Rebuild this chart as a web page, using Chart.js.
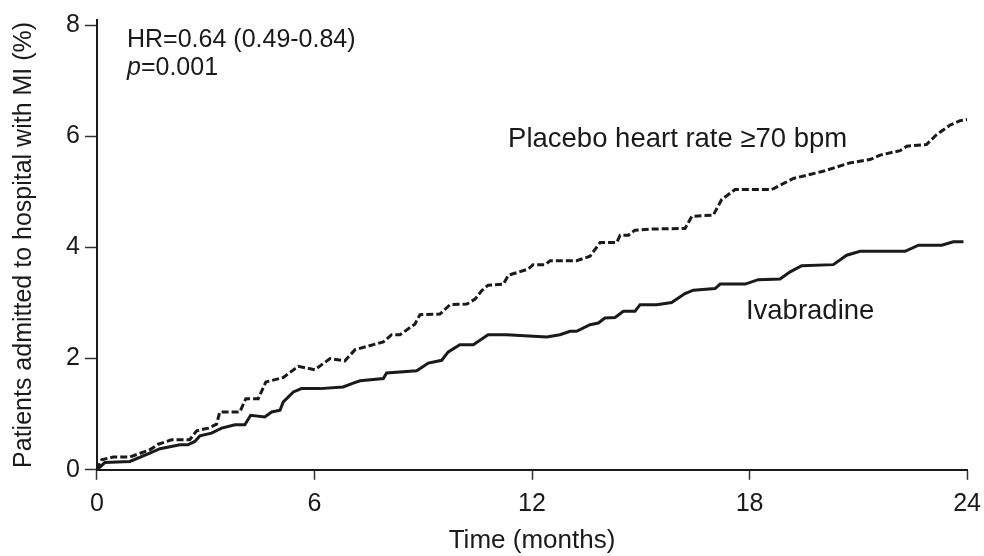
<!DOCTYPE html>
<html>
<head>
<meta charset="utf-8">
<script src="https://cdn.jsdelivr.net/npm/chart.js@4.4.1/dist/chart.umd.min.js"></script>
<style>
  html, body { margin: 0; padding: 0; background: #fff; width: 984px; height: 556px; overflow: hidden; }
  #wrap { width: 990px; height: 556px; position: relative; }
</style>
</head>
<body>
<div id="wrap"><canvas id="kmChart"></canvas></div>
<script>
// Kaplan-Meier curves, months vs cumulative % admitted with MI
const ivabradineMonths = [0, 0.22, 0.91, 1.46, 1.74, 2.29, 2.51, 2.70, 2.84, 3.16, 3.44, 3.81, 4.08, 4.24, 4.63, 4.82, 5.05, 5.14, 5.42, 5.64, 6.15, 6.79, 7.07, 7.26, 7.90, 7.99, 8.82, 9.14, 9.51, 9.69, 10.01, 10.38, 10.79, 11.30, 12.41, 12.77, 13.05, 13.23, 13.60, 13.83, 14.01, 14.29, 14.52, 14.84, 14.98, 15.44, 15.85, 16.22, 16.45, 17.05, 17.19, 17.88, 18.24, 18.84, 19.12, 19.44, 20.31, 20.68, 21.05, 22.29, 22.66, 23.30, 23.62, 23.90];
const ivabradineRates = [0, 0.13, 0.15, 0.30, 0.38, 0.45, 0.45, 0.51, 0.61, 0.66, 0.75, 0.81, 0.81, 0.98, 0.95, 1.04, 1.07, 1.22, 1.40, 1.46, 1.46, 1.49, 1.56, 1.60, 1.64, 1.74, 1.78, 1.92, 1.97, 2.12, 2.25, 2.25, 2.43, 2.43, 2.39, 2.43, 2.49, 2.49, 2.61, 2.64, 2.73, 2.74, 2.85, 2.85, 2.97, 2.97, 3.01, 3.17, 3.23, 3.26, 3.34, 3.34, 3.42, 3.43, 3.56, 3.67, 3.69, 3.86, 3.93, 3.93, 4.04, 4.04, 4.10, 4.10];

const placeboMonths = [0, 0.13, 0.45, 0.91, 1.46, 1.69, 2.06, 2.56, 2.75, 3.07, 3.30, 3.39, 3.94, 4.11, 4.45, 4.66, 5.14, 5.28, 5.55, 6.01, 6.43, 6.84, 7.12, 7.90, 8.13, 8.36, 8.77, 8.91, 9.46, 9.74, 10.20, 10.43, 10.61, 10.79, 11.21, 11.35, 11.90, 12.03, 12.36, 12.50, 13.23, 13.60, 13.88, 14.34, 14.43, 14.66, 14.84, 15.26, 16.22, 16.41, 17.00, 17.23, 17.60, 18.61, 19.21, 20.03, 20.77, 21.32, 21.60, 22.15, 22.34, 22.88, 23.16, 23.53, 23.81, 24.00];
const placeboRates = [0, 0.18, 0.23, 0.23, 0.36, 0.46, 0.54, 0.54, 0.70, 0.75, 0.82, 1.04, 1.04, 1.28, 1.28, 1.58, 1.66, 1.73, 1.86, 1.80, 2.00, 1.96, 2.16, 2.30, 2.43, 2.43, 2.62, 2.79, 2.80, 2.97, 2.98, 3.07, 3.22, 3.32, 3.34, 3.50, 3.61, 3.69, 3.69, 3.76, 3.76, 3.84, 4.09, 4.09, 4.22, 4.22, 4.31, 4.33, 4.34, 4.56, 4.58, 4.86, 5.04, 5.04, 5.24, 5.37, 5.52, 5.58, 5.66, 5.74, 5.82, 5.85, 6.03, 6.20, 6.28, 6.30];

const xTicks = [0, 6, 12, 18, 24];
const yTicks = [0, 2, 4, 6, 8];

const FONT = "'Liberation Sans', Arial, Helvetica, sans-serif";
const INK = '#1a1a1a';

function zip(xs, ys) {
  return xs.map(function (x, i) { return { x: x, y: ys[i] }; });
}

// texts written inside the plot, anchored on data values
const annotations = {
  id: 'annotations',
  afterDraw: function (chart) {
    const ctx = chart.ctx;
    const xs = chart.scales.x, ys = chart.scales.y;
    ctx.save();
    ctx.fillStyle = INK;
    ctx.textBaseline = 'alphabetic';
    ctx.textAlign = 'left';
    ctx.font = '25px ' + FONT;

    ctx.fillText('HR=0.64 (0.49-0.84)', xs.getPixelForValue(0.83), ys.getPixelForValue(7.61));

    let px = xs.getPixelForValue(0.83), py = ys.getPixelForValue(7.105);
    ctx.font = 'italic 25px ' + FONT;
    ctx.fillText('p', px, py);
    px += ctx.measureText('p').width;
    ctx.font = '25px ' + FONT;
    ctx.fillText('=0.001', px, py);

    ctx.font = '27.5px ' + FONT;
    ctx.fillText('Placebo heart rate \u2265' + '70 bpm', xs.getPixelForValue(11.34), ys.getPixelForValue(5.80));
    ctx.fillText('Ivabradine', xs.getPixelForValue(17.9), ys.getPixelForValue(2.72));
    ctx.restore();
  }
};

new Chart(document.getElementById('kmChart'), {
  type: 'line',
  data: {
    datasets: [{
      label: 'Ivabradine',
      data: zip(ivabradineMonths, ivabradineRates),
      borderColor: INK,
      borderWidth: 3,
      pointRadius: 0,
      tension: 0,
      fill: false
    }, {
      label: 'Placebo heart rate \u226570 bpm',
      data: zip(placeboMonths, placeboRates),
      borderColor: INK,
      borderWidth: 3,
      borderDash: [7, 3],
      pointRadius: 0,
      tension: 0,
      fill: false
    }]
  },
  options: {
    responsive: true,
    maintainAspectRatio: false,
    animation: false,
    layout: {
      padding: { left: 9, right: 11, top: 0, bottom: 0 }
    },
    scales: {
      x: {
        type: 'linear',
        min: 0,
        max: 24,
        afterBuildTicks: function (scale) {
          scale.ticks = xTicks.map(function (v) { return { value: v }; });
        },
        border: { display: true, color: INK, width: 2 },
        grid: {
          display: true,
          drawOnChartArea: false,
          drawTicks: true,
          tickLength: 10,
          tickColor: '#333',
          tickWidth: 1.5
        },
        ticks: {
          color: INK,
          padding: 9,
          maxRotation: 0,
          font: { family: FONT, size: 25 }
        },
        title: {
          display: true,
          text: 'Time (months)',
          color: INK,
          padding: { top: -3, bottom: 0 },
          font: { family: FONT, size: 26 }
        }
      },
      y: {
        type: 'linear',
        min: 0,
        max: 8.09,
        afterBuildTicks: function (scale) {
          scale.ticks = yTicks.map(function (v) { return { value: v }; });
        },
        border: { display: true, color: INK, width: 2 },
        grid: {
          display: true,
          drawOnChartArea: false,
          drawTicks: true,
          tickLength: 12,
          tickColor: '#333',
          tickWidth: 1.5
        },
        ticks: {
          color: INK,
          padding: 5,
          font: { family: FONT, size: 25 }
        },
        title: {
          display: true,
          text: 'Patients admitted to hospital with MI (%)',
          color: INK,
          padding: { top: 0, bottom: 22 },
          font: { family: FONT, size: 25 }
        }
      }
    },
    plugins: {
      legend: { display: false },
      tooltip: { enabled: false }
    }
  },
  plugins: [annotations]
});
</script>
</body>
</html>
